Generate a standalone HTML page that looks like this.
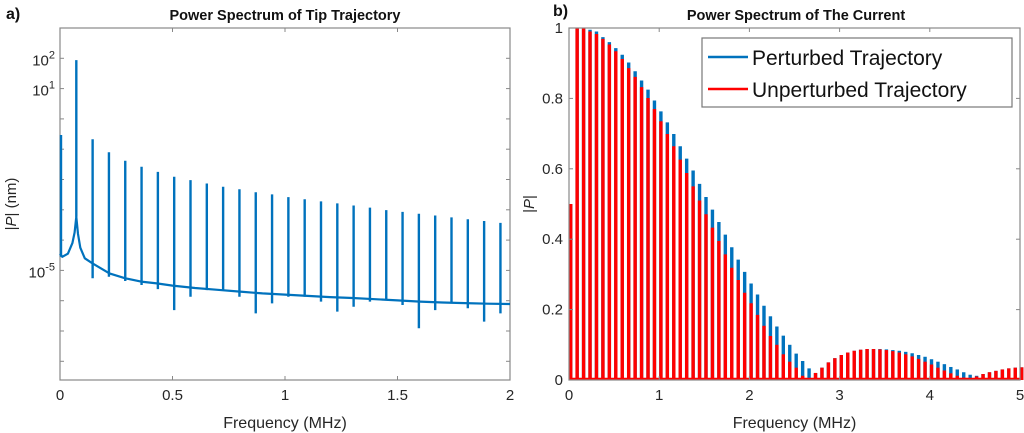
<!DOCTYPE html>
<html><head><meta charset="utf-8">
<style>
html,body{margin:0;padding:0;background:#fff;}
svg{display:block;font-family:"Liberation Sans",Arial,sans-serif;}
</style></head>
<body>
<svg id="fig" width="1024" height="433" viewBox="0 0 1024 433" xmlns="http://www.w3.org/2000/svg">
  <g id="pa"></g>
  <g id="pb"></g>
</svg>
<script>
// ---------- Panel A data ----------
const aHarmonicStep = 0.0725; // MHz
const aPeakLog = [-0.53,1.94,-0.67,-1.10,-1.38,-1.58,-1.75,-1.91,-2.02,-2.13,-2.24,-2.32,-2.42,-2.49,-2.58,-2.65,-2.72,-2.79,-2.86,-2.93,-3.01,-3.07,-3.13,-3.19,-3.25,-3.31,-3.37,-3.43];
const aDipLog = [-4.55,-3.23,-5.26,-5.21,-5.35,-5.48,-5.62,-6.31,-5.87,-5.65,-5.65,-5.87,-6.42,-6.09,-5.87,-5.87,-6.03,-6.36,-6.20,-6.03,-5.98,-6.14,-6.91,-6.31,-6.09,-6.25,-6.69,-6.42];
const aFloorFreq = [0,0.01,0.035,0.055,0.065,0.0725,0.08,0.09,0.11,0.145,0.22,0.29,0.36,0.43,0.5,0.6,0.7,0.8,0.9,1.0,1.1,1.2,1.3,1.4,1.5,1.6,1.7,1.8,1.9,2.0];
const aFloorLog  = [-4.45,-4.55,-4.45,-4.1,-3.75,-3.23,-3.8,-4.25,-4.6,-4.77,-5.10,-5.26,-5.37,-5.43,-5.50,-5.58,-5.64,-5.70,-5.76,-5.80,-5.84,-5.88,-5.91,-5.95,-5.99,-6.03,-6.06,-6.08,-6.10,-6.11];
const aXTicks = [0,0.5,1,1.5,2];
const aXTickLabels = ["0","0.5","1","1.5","2"];
const aYTicks = [2,1,-5];
const aYTickLabels = ["2","1","-5"];

// ---------- Panel B data ----------
const bStep = 5/70;
const bRed = [0.5,1.0,1.0,0.99,0.983,0.969,0.953,0.934,0.912,0.886,0.861,0.832,0.801,0.770,0.735,0.699,0.664,0.626,0.588,0.550,0.510,0.471,0.433,0.395,0.357,0.319,0.284,0.248,0.218,0.185,0.154,0.125,0.100,0.073,0.052,0.035,0.012,0.005,0.02,0.035,0.05,0.062,0.071,0.078,0.083,0.086,0.088,0.088,0.087,0.085,0.082,0.078,0.073,0.067,0.060,0.052,0.044,0.035,0.027,0.019,0.012,0.007,0.005,0.010,0.017,0.022,0.026,0.030,0.033,0.035,0.036];
const bBlue = [0.5,1.0,1.0,0.995,0.99,0.974,0.96,0.943,0.924,0.902,0.877,0.851,0.825,0.794,0.763,0.732,0.699,0.664,0.629,0.595,0.557,0.520,0.484,0.449,0.413,0.377,0.342,0.307,0.274,0.243,0.211,0.181,0.152,0.126,0.100,0.075,0.054,0.033,0.02,0.035,0.05,0.062,0.071,0.078,0.083,0.086,0.088,0.088,0.088,0.087,0.085,0.083,0.080,0.076,0.071,0.066,0.059,0.052,0.045,0.037,0.030,0.022,0.015,0.012,0.017,0.022,0.026,0.030,0.033,0.035,0.036];
const bXTicks = [0,1,2,3,4,5];
const bXTickLabels = ["0","1","2","3","4","5"];
const bYTicks = [0,0.2,0.4,0.6,0.8,1];
const bYTickLabels = ["0","0.2","0.4","0.6","0.8","1"];

const NS = "http://www.w3.org/2000/svg";
function mk(parent, tag, attrs, text){
  const e = document.createElementNS(NS, tag);
  for (const k in attrs) e.setAttribute(k, attrs[k]);
  if (text !== undefined) e.textContent = text;
  parent.appendChild(e);
  return e;
}
const BLUE = "#0072BD", RED = "#FF0000", AX = "#262626";

// ---------- Panel A ----------
(function(){
  const g = document.getElementById('pa');
  const L=60, R=510, T=28, B=380;
  const x = f => L + f/2*(R-L);
  const y = lg => 58.3 + (2-lg)*30.3;
  const lab = mk(g,'text',{x:6,y:19,'font-size':16,'font-weight':'bold',fill:'#111'},'a)');
   
  const t = mk(g,'text',{x:(L+R)/2,y:20,'font-size':14.5,'font-weight':'bold','text-anchor':'middle',fill:'#111'},'Power Spectrum of Tip Trajectory');
   
  const box = mk(g,'rect',{x:L,y:T,width:R-L,height:B-T,fill:'none',stroke:'#888','stroke-width':1.2});
   
  for(let d=2; d>=-8; d--){
    const yy=y(d);
    mk(g,'line',{x1:L,x2:L+4,y1:yy,y2:yy,stroke:'#888'});
    mk(g,'line',{x1:R,x2:R-4,y1:yy,y2:yy,stroke:'#888'});
  }
  aXTicks.forEach((v,i)=>{
    const xx=x(v);
    mk(g,'line',{x1:xx,x2:xx,y1:B,y2:B-4,stroke:'#888'});
    mk(g,'line',{x1:xx,x2:xx,y1:T,y2:T+4,stroke:'#888'});
    const tl = mk(g,'text',{x:xx,y:B+20,'font-size':15,'text-anchor':'middle',fill:AX},aXTickLabels[i]);
     
  });
  aYTicks.forEach((v,i)=>{
    const yy=y(v);
    const tl = mk(g,'text',{x:L-5,y:yy+7,'font-size':15,'text-anchor':'end',fill:AX});
     
    mk(tl,'tspan',{},'10');
    mk(tl,'tspan',{dy:-7,'font-size':11},aYTickLabels[i]);
  });
  const xl = mk(g,'text',{x:(L+R)/2,y:428,'font-size':16,'text-anchor':'middle',fill:AX},'Frequency (MHz)');
   
  const yl = mk(g,'text',{x:0,y:0,'font-size':15,'text-anchor':'middle',fill:AX,transform:'translate(16,204) rotate(-90)'});
   
  mk(yl,'tspan',{},'|');
  mk(yl,'tspan',{'font-style':'italic'},'P');
  mk(yl,'tspan',{},'| (nm)');
  const pts = aFloorFreq.map((f,i)=>x(f).toFixed(1)+','+y(aFloorLog[i]).toFixed(1)).join(' ');
  const fl = mk(g,'polyline',{points:pts,fill:'none',stroke:BLUE,'stroke-width':2.2,'stroke-linejoin':'round'});
   
  aPeakLog.forEach((p,k)=>{
    const xx = x(k*aHarmonicStep) + (k===0?1:0);
    const s = mk(g,'line',{x1:xx,x2:xx,y1:y(p),y2:y(aDipLog[k]),stroke:BLUE,'stroke-width':2.4});
     
  });
})();

// ---------- Panel B ----------
(function(){
  const g = document.getElementById('pb');
  const L=569, R=1020, T=28, B=380;
  const x = f => L + f/5*(R-L);
  const y = v => B - v*(B-T);
  const lab = mk(g,'text',{x:553,y:16,'font-size':16,'font-weight':'bold',fill:'#111'},'b)');
   
  const t = mk(g,'text',{x:796,y:20,'font-size':14.5,'font-weight':'bold','text-anchor':'middle',fill:'#111'},'Power Spectrum of The Current');
   
  const sw = 3.4;
  bBlue.forEach((v,k)=>{
    const xx = x(k*bStep) + sw/2;
    const s = mk(g,'line',{x1:xx,x2:xx,y1:B,y2:y(v),stroke:BLUE,'stroke-width':sw});
     
  });
  bRed.forEach((v,k)=>{
    const xx = x(k*bStep) + sw/2;
    const s = mk(g,'line',{x1:xx,x2:xx,y1:B,y2:y(v),stroke:RED,'stroke-width':sw});
     
  });
  mk(g,'line',{x1:L,x2:R,y1:B-1,y2:B-1,stroke:RED,'stroke-width':2.5});
  const box = mk(g,'rect',{x:L,y:T,width:R-L,height:B-T,fill:'none',stroke:'#888','stroke-width':1.2});
   
  bXTicks.forEach((v,i)=>{
    const xx=x(v);
    mk(g,'line',{x1:xx,x2:xx,y1:B,y2:B-4,stroke:'#888'});
    mk(g,'line',{x1:xx,x2:xx,y1:T,y2:T+4,stroke:'#888'});
    const tl = mk(g,'text',{x:xx,y:B+20,'font-size':15,'text-anchor':'middle',fill:AX},bXTickLabels[i]);
     
  });
  bYTicks.forEach((v,i)=>{
    const yy=y(v);
    mk(g,'line',{x1:L,x2:L+4,y1:yy,y2:yy,stroke:'#888'});
    mk(g,'line',{x1:R,x2:R-4,y1:yy,y2:yy,stroke:'#888'});
    const tl = mk(g,'text',{x:L-6,y:yy+5,'font-size':15,'text-anchor':'end',fill:AX},bYTickLabels[i]);
     
  });
  const xl = mk(g,'text',{x:(L+R)/2,y:428,'font-size':16,'text-anchor':'middle',fill:AX},'Frequency (MHz)');
   
  const yl = mk(g,'text',{x:0,y:0,'font-size':15,'text-anchor':'middle',fill:AX,transform:'translate(534,204) rotate(-90)'});
   
  mk(yl,'tspan',{},'|');
  mk(yl,'tspan',{'font-style':'italic'},'P');
  mk(yl,'tspan',{},'|');
  const lg = mk(g,'g',{});
   
  mk(lg,'rect',{x:702,y:38,width:310,height:69,fill:'#fff',stroke:'#777','stroke-width':1.2});
  const e1 = mk(lg,'g',{});
   
  mk(e1,'line',{x1:708,x2:748,y1:57,y2:57,stroke:BLUE,'stroke-width':2.5});
  mk(e1,'text',{x:752,y:65,'font-size':21,fill:'#111'},'Perturbed Trajectory');
  const e2 = mk(lg,'g',{});
   
  mk(e2,'line',{x1:708,x2:748,y1:89,y2:89,stroke:RED,'stroke-width':2.5});
  mk(e2,'text',{x:752,y:97,'font-size':21,fill:'#111'},'Unperturbed Trajectory');
})();
</script>
</body></html>
